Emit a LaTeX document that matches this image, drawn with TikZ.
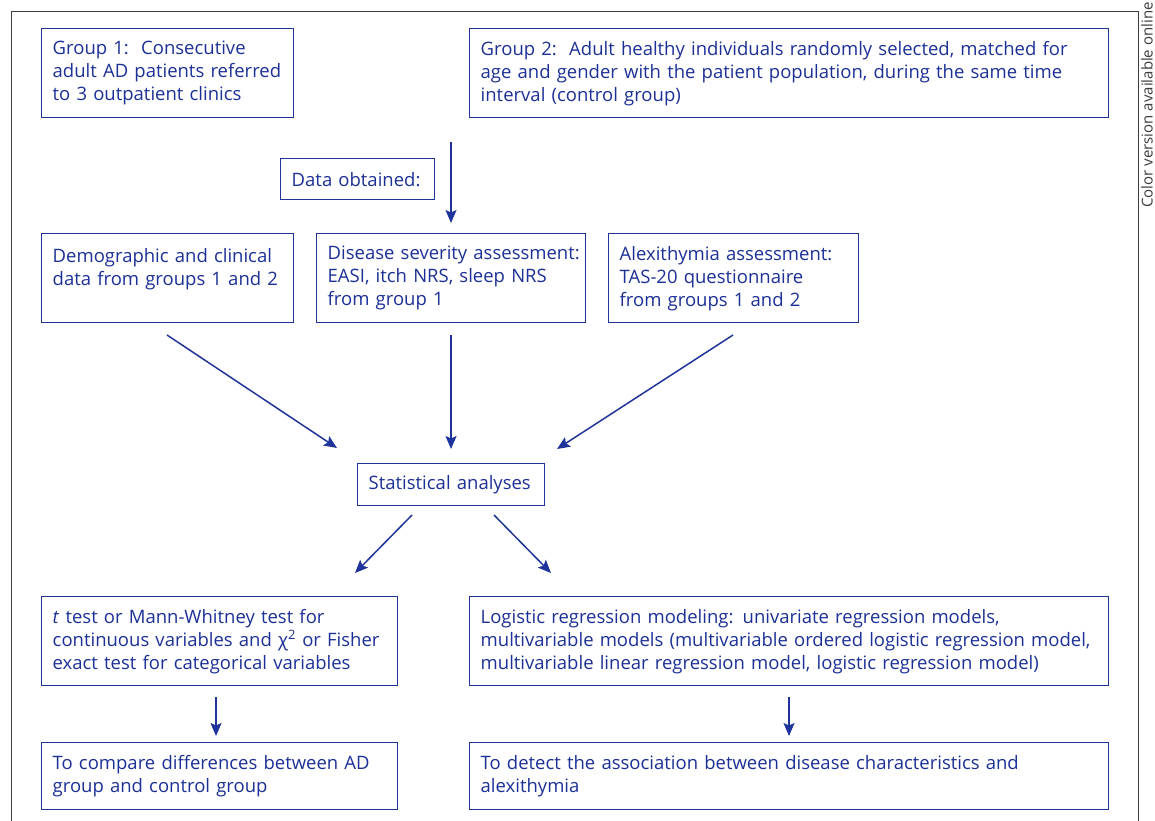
\documentclass[tikz,border=0pt]{standalone}
\usepackage{fontspec}
\setmainfont{Open Sans}
\usetikzlibrary{arrows.meta}
\definecolor{bblue}{RGB}{30,52,155}
\definecolor{tblue}{RGB}{28,48,150}
\definecolor{framegray}{RGB}{60,60,60}
\begin{document}
\hyphenpenalty=10000\relax
\begin{tikzpicture}[x=1pt,y=-1pt,
  box/.style={draw=bblue, line width=1.4pt, text=tblue, anchor=north west, align=left,
    inner xsep=11pt, inner ysep=0pt, font=\fontsize{18.5}{23}\selectfont},
  arr/.style={draw=bblue, line width=1.5pt, -{Stealth[length=13pt,width=11pt,inset=2.5pt]}}]
\useasboundingbox (0,0) rectangle (1155,820);
% outer frame
\draw[framegray, line width=1pt] (11,830) -- (11,11) -- (1138,11) -- (1138,830);
\node[rotate=90, anchor=east, text=framegray, font=\fontsize{15}{17}\selectfont, inner sep=0pt] (cv) at (1147,2) {Color version available online};
% boxes
\node[box, minimum width=252, minimum height=89, text width=230pt] (g1) at (41,28)
  {Group 1:\ \ Consecutive\\adult AD patients referred\\to 3 outpatient clinics};
\node[box, minimum width=639, minimum height=89, text width=617pt] (g2) at (469,28)
  {Group 2:\ \ Adult healthy individuals randomly selected, matched for\\age and gender with the patient population, during the same time\\interval (control group)};
\node[box, minimum width=154, minimum height=41, text width=132pt] (data) at (280,158)
  {Data obtained:};
\node[box, minimum width=252, minimum height=89, text width=230pt] (demo) at (41,233)
  {Demographic and clinical\\data from groups 1 and 2\\\mbox{}};
\node[box, minimum width=269, minimum height=89, text width=247pt] (sev) at (316,233)
  {\mbox{Disease severity assessment:}\\EASI, itch NRS, sleep NRS\\from group 1};
\node[box, minimum width=250, minimum height=89, text width=228pt] (alex) at (608,233)
  {Alexithymia assessment:\\TAS-20 questionnaire\\from groups 1 and 2};
\node[box, minimum width=187, minimum height=42, text width=165pt] (stat) at (357,463)
  {Statistical analyses};
\node[box, minimum width=356, minimum height=89, text width=334pt] (ttest) at (41,596)
  {\textit{t} test or Mann-Whitney test for\\continuous variables and χ\textsuperscript{2} or Fisher\\exact test for categorical variables};
\node[box, minimum width=639, minimum height=89, text width=617pt] (logit) at (469,596)
  {Logistic regression modeling: univariate regression models,\\multivariable models (multivariable ordered logistic regression model,\\multivariable linear regression model, logistic regression model)};
\node[box, minimum width=356, minimum height=67, text width=334pt] (cmp) at (41,742)
  {To compare differences between AD\\group and control group};
\node[box, minimum width=639, minimum height=67, text width=617pt] (det) at (469,742)
  {To detect the association between disease characteristics and\\alexithymia};
% arrow end points
\coordinate (a0s) at (451,142); \coordinate (a0e) at (451,223);
\coordinate (a1s) at (167,335); \coordinate (a1e) at (337,448);
\coordinate (a2s) at (451,335); \coordinate (a2e) at (451,449);
\coordinate (a3s) at (733,335); \coordinate (a3e) at (557,449);
\coordinate (a4s) at (412,515); \coordinate (a4e) at (355,573);
\coordinate (a5s) at (494,515); \coordinate (a5e) at (551,573);
\coordinate (a6s) at (216,697); \coordinate (a6e) at (216,736);
\coordinate (a7s) at (789,697); \coordinate (a7e) at (789,736);
\foreach \i in {0,...,7} \draw[arr] (a\i s) -- (a\i e);
\end{tikzpicture}
\end{document}
